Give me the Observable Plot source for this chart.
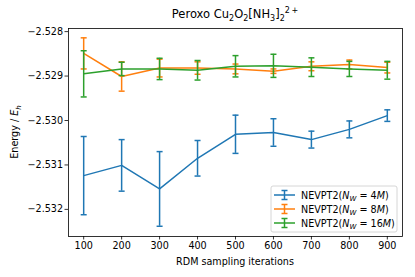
<!DOCTYPE html>
<html><head><meta charset="utf-8">
<script src="https://cdn.jsdelivr.net/npm/d3@7"></script>
<script src="https://cdn.jsdelivr.net/npm/@observablehq/plot@0.6"></script>
<style>body{margin:0;background:#fff;} #chart{position:relative;width:415px;height:277px;}</style>
</head><body><div id="chart"></div>
<script>
const iterations = [100, 200, 300, 400, 500, 600, 700, 800, 900];
const energy4M = [-2.53124, -2.53101, -2.53154, -2.53085, -2.53031, -2.53027, -2.53043, -2.53020, -2.52989];
const err4M    = [0.00088, 0.00058, 0.00084, 0.00040, 0.00043, 0.00031, 0.00019, 0.00019, 0.00013];
const energy8M = [-2.52849, -2.52901, -2.52882, -2.52882, -2.52884, -2.52889, -2.52878, -2.52874, -2.52881];
const err8M    = [0.00035, 0.00033, 0.00020, 0.00014, 0.00011, 0.00005, 0.00010, 0.00010, 0.00012];
const energy16M = [-2.52895, -2.52884, -2.52884, -2.52887, -2.52878, -2.52877, -2.52880, -2.52884, -2.52887];
const err16M    = [0.00052, 0.00015, 0.00024, 0.00022, 0.00024, 0.00026, 0.00021, 0.00017, 0.00020];
const seriesNames = ["4", "8", "16"];
const colors = ["#1f77b4", "#ff7f0e", "#2ca02c"];
const xTicks = [100, 200, 300, 400, 500, 600, 700, 800, 900];
const yTicks = [-2.528, -2.529, -2.530, -2.531, -2.532];

const energies = [energy4M, energy8M, energy16M];
const errs = [err4M, err8M, err16M];

const capSymbol = {draw(ctx, size) { const r = Math.sqrt(size / Math.PI); ctx.moveTo(-r, 0); ctx.lineTo(r, 0); }};

const marks = [];
energies.forEach((E, s) => {
  const rows = iterations.map((it, i) => ({it, e: E[i], err: errs[s][i]}));
  const c = colors[s];
  marks.push(Plot.line(rows, {x: "it", y: "e", stroke: c, strokeWidth: 1.5}));
  marks.push(Plot.ruleX(rows, {x: "it", y1: d => d.e - d.err, y2: d => d.e + d.err, stroke: c, strokeWidth: 1.5}));
  marks.push(Plot.dot(rows, {x: "it", y: d => d.e + d.err, symbol: capSymbol, r: 3, stroke: c, strokeWidth: 1.5, fill: "none"}));
  marks.push(Plot.dot(rows, {x: "it", y: d => d.e - d.err, symbol: capSymbol, r: 3, stroke: c, strokeWidth: 1.5, fill: "none"}));
});
marks.push(Plot.frame({stroke: "#000", strokeWidth: 0.8}));

const chart = Plot.plot({
  width: 415, height: 277,
  marginLeft: 68, marginRight: 13, marginTop: 28, marginBottom: 41,
  style: {fontFamily: "DejaVu Sans", fontSize: "9.6px", background: "#fff", color: "#000", overflow: "visible"},
  x: {domain: [60, 940], ticks: xTicks, tickSize: 3.5, tickPadding: 2, label: null, tickFormat: d => String(d)},
  y: {domain: [-2.53261, -2.52793], ticks: yTicks, tickSize: 3.5, tickPadding: 2, label: null, tickFormat: d3.format(".3f")},
  marks
});
document.getElementById("chart").appendChild(chart);

const svg = d3.select(chart);
svg.selectAll("[aria-label='x-axis tick'], [aria-label='y-axis tick']").attr("stroke-width", 0.8);

// Title
const t = svg.append("text").attr("x", 235).attr("y", 18).attr("text-anchor", "middle").attr("font-size", "11.5px").attr("fill", "#000");
const parts = [["Peroxo Cu",0,null],["2",3,"8px"],["O",-3,null],["2",3,"8px"],["[NH",-3,null],["3",3,"8px"],["]",-3,null],["2",3,"8px"],["2\u2009+",-8,"8px"]];
parts.forEach(([txt, dy, fs]) => { const sp = t.append("tspan").attr("dy", dy).text(txt); if (fs) sp.attr("font-size", fs); });

// X label
svg.append("text").attr("x", 235).attr("y", 265).attr("text-anchor", "middle").attr("font-size", "9.6px").attr("fill", "#000").text("RDM sampling iterations");

// Y label
const yl = svg.append("text").attr("transform", "translate(18,132) rotate(-90)").attr("text-anchor", "middle").attr("font-size", "9.6px").attr("fill", "#000");
yl.append("tspan").text("Energy / ");
yl.append("tspan").attr("font-style", "italic").text("E");
yl.append("tspan").attr("font-style", "italic").attr("font-size", "7px").attr("dy", 2.5).text("h");

// Legend
const lg = svg.append("g").attr("text-anchor", "start");
lg.append("rect").attr("x", 271).attr("y", 186).attr("width", 126).attr("height", 46).attr("rx", 2)
  .attr("fill", "#fff").attr("fill-opacity", 0.8).attr("stroke", "#ccc").attr("stroke-width", 0.8);
const legendY = [195, 209, 223];
seriesNames.forEach((n, i) => {
  const y = legendY[i], c = colors[i];
  lg.append("line").attr("x1", 274).attr("x2", 295).attr("y1", y).attr("y2", y).attr("stroke", c).attr("stroke-width", 1.5);
  lg.append("line").attr("x1", 284.5).attr("x2", 284.5).attr("y1", y - 4.5).attr("y2", y + 4.5).attr("stroke", c).attr("stroke-width", 1.5);
  lg.append("line").attr("x1", 281.5).attr("x2", 287.5).attr("y1", y - 4.5).attr("y2", y - 4.5).attr("stroke", c).attr("stroke-width", 1.5);
  lg.append("line").attr("x1", 281.5).attr("x2", 287.5).attr("y1", y + 4.5).attr("y2", y + 4.5).attr("stroke", c).attr("stroke-width", 1.5);
  const tx = lg.append("text").attr("x", 301).attr("y", y + 3.5).attr("text-anchor", "start").attr("font-size", "9.6px").attr("fill", "#000");
  tx.append("tspan").text("NEVPT2(");
  tx.append("tspan").attr("font-style", "italic").text("N");
  tx.append("tspan").attr("font-style", "italic").attr("font-size", "7px").attr("dy", 2).text("W");
  tx.append("tspan").attr("dy", -2).text(" = " + n);
  tx.append("tspan").attr("font-style", "italic").text("M");
  tx.append("tspan").text(")");
});
</script></body></html>
